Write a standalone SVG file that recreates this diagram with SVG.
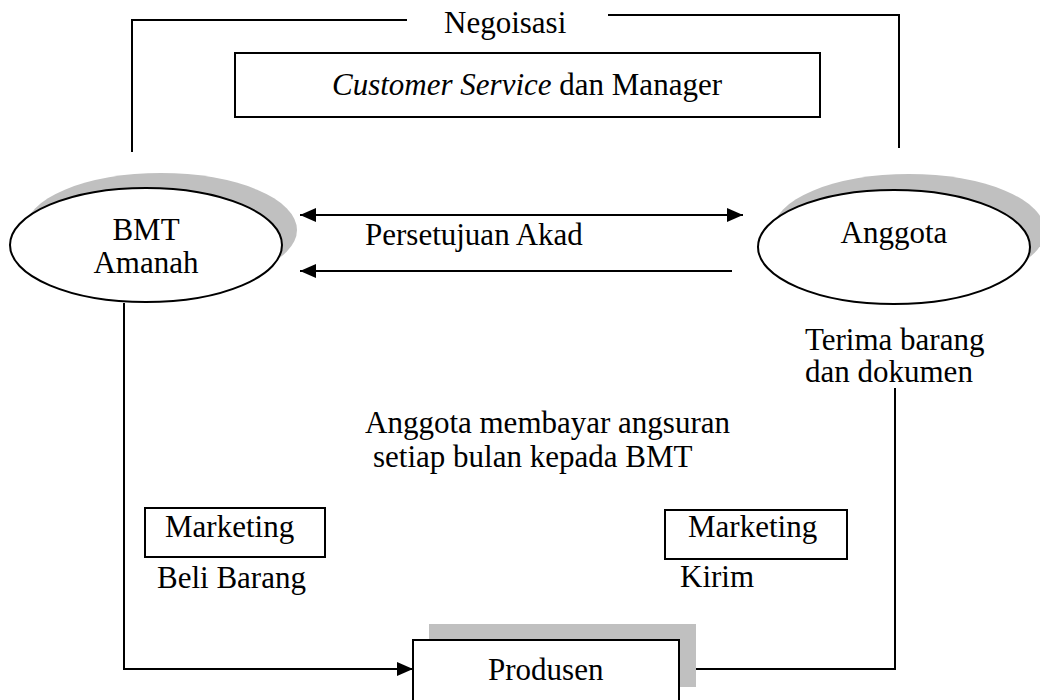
<svg xmlns="http://www.w3.org/2000/svg" width="1040" height="700" viewBox="0 0 1040 700">
<defs>
<style>
text{font-family:"Liberation Serif","Times New Roman",serif;font-size:31px;fill:#000}
.ln{fill:none;stroke:#000;stroke-width:2}
.box{fill:#fff;stroke:#000;stroke-width:2}
.shadow{fill:#c0c0c0;stroke:none}
</style>
<marker id="ah" viewBox="0 0 16 14" refX="16" refY="7" markerWidth="16" markerHeight="14" markerUnits="userSpaceOnUse" orient="auto-start-reverse">
<path d="M0,0 L16,7 L0,14 Z" fill="#000"/>
</marker>
</defs>
<rect width="1040" height="700" fill="#fff"/>

<g id="connectors">
<polyline class="ln" points="132,152 132,20 407,20"/>
<polyline class="ln" points="608,15 899,15 899,148"/>
<line class="ln" x1="300" y1="215" x2="743" y2="215" stroke-width="2.5" marker-start="url(#ah)" marker-end="url(#ah)"/>
<line class="ln" x1="732" y1="271" x2="300" y2="271" stroke-width="2.5" marker-end="url(#ah)"/>
<polyline class="ln" points="124,303 124,669 413,669" marker-end="url(#ah)"/>
<polyline class="ln" points="679,669 895,669 895,388"/>
</g>

<g id="negoisasi">
<text x="444" y="33">Negoisasi</text>
</g>

<g id="cs-manager">
<rect class="box" x="235" y="53" width="585" height="64"/>
<text x="527" y="95" text-anchor="middle"><tspan font-style="italic">Customer Service</tspan> dan Manager</text>
</g>

<g id="bmt">
<ellipse class="shadow" cx="161" cy="230" rx="136" ry="57"/>
<ellipse class="box" cx="146" cy="245" rx="136" ry="57"/>
<text x="146" y="240" text-anchor="middle">BMT</text>
<text x="146" y="273" text-anchor="middle">Amanah</text>
</g>

<g id="anggota">
<ellipse class="shadow" cx="909" cy="231" rx="136" ry="57"/>
<ellipse class="box" cx="894" cy="247" rx="136" ry="57"/>
<text x="894" y="243" text-anchor="middle">Anggota</text>
</g>

<g id="labels">
<text x="365" y="245">Persetujuan Akad</text>
<text x="805" y="350">Terima barang</text>
<text x="805" y="382">dan dokumen</text>
<text x="365" y="433">Anggota membayar angsuran</text>
<text x="373" y="467">setiap bulan kepada BMT</text>
<text x="157" y="588">Beli Barang</text>
<text x="680" y="587">Kirim</text>
</g>

<g id="marketing-left">
<rect class="box" x="145" y="508" width="180" height="49"/>
<text x="165" y="537">Marketing</text>
</g>

<g id="marketing-right">
<rect class="box" x="665" y="510" width="182" height="49"/>
<text x="688" y="537">Marketing</text>
</g>

<g id="produsen">
<rect class="shadow" x="429" y="624" width="267" height="63"/>
<rect class="box" x="413" y="640" width="266" height="70"/>
<text x="488" y="680">Produsen</text>
</g>
</svg>
